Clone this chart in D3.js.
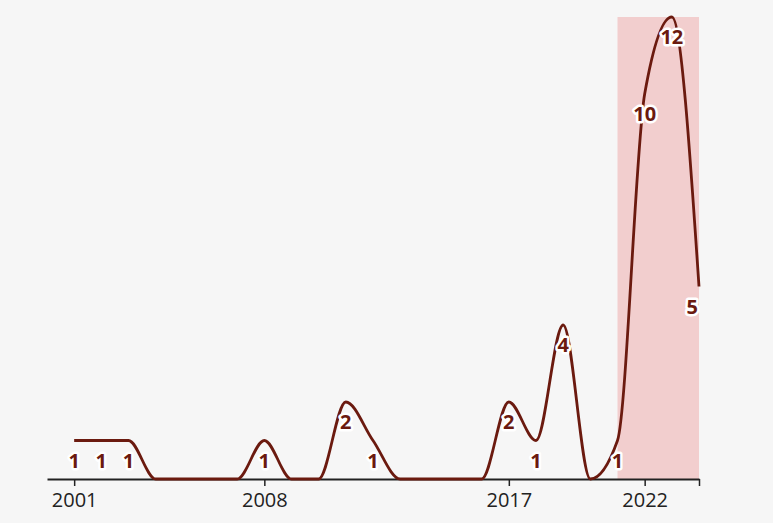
<!DOCTYPE html>
<html>
<head>
<meta charset="utf-8">
<script src="https://cdn.jsdelivr.net/npm/d3@7"></script>
<style>
  html, body { margin: 0; padding: 0; background: #f5f5f5; }
  svg { display: block; }
</style>
</head>
<body>
<svg id="chart" width="773" height="523"></svg>
<script>
const years  = [2001,2002,2003,2004,2005,2006,2007,2008,2009,2010,2011,2012,2013,2014,2015,2016,2017,2018,2019,2020,2021,2022,2023,2024];
const counts = [1,1,1,0,0,0,0,1,0,0,2,1,0,0,0,0,2,1,4,0,1,10,12,5];
const tickYears = [2001, 2008, 2017, 2022, 2024];
const tickLabels = ["2001", "2008", "2017", "2022", ""];
const highlightRange = [2021, 2024];

const svg = d3.select("#chart");
const W = 773, H = 523;
svg.append("rect").attr("width", W).attr("height", H).attr("fill", "#f6f6f6");

const x = d3.scaleLinear().domain([2000, 2024]).range([47, 699]);
const y = d3.scaleLinear().domain([0, 12]).range([479, 17]);

const data = years.map((yr, i) => ({year: yr, value: counts[i]}));

// highlight band
svg.append("rect")
  .attr("x", x(highlightRange[0]))
  .attr("y", y(12))
  .attr("width", x(highlightRange[1]) - x(highlightRange[0]))
  .attr("height", y(0) - y(12))
  .attr("fill", "#f2cece");

// axis
const axis = d3.axisBottom(x)
  .tickValues(tickYears)
  .tickFormat((d, i) => tickLabels[i])
  .tickSize(7)
  .tickSizeOuter(0);
const gx = svg.append("g").attr("transform", `translate(0,${y(0)})`).call(axis);
gx.select(".domain").attr("stroke", "#222").attr("stroke-width", 2);
gx.selectAll(".tick line").attr("stroke", "#222").attr("stroke-width", 1.5);
gx.selectAll(".tick text")
  .attr("fill", "#222")
  .attr("font-family", "'Open Sans', 'Noto Sans', sans-serif")
  .attr("font-size", 20)
  .attr("dy", "0.95em")
  .attr("y", 9);

// line
const line = d3.line()
  .x(d => x(d.year))
  .y(d => y(d.value))
  .curve(d3.curveMonotoneX);
svg.append("path")
  .datum(data)
  .attr("d", line)
  .attr("fill", "none")
  .attr("stroke", "#6b1a0f")
  .attr("stroke-width", 2.8);

// labels
const lastYear = years[years.length - 1];
svg.append("g").selectAll("text")
  .data(data.filter(d => d.value > 0))
  .join("text")
  .attr("x", d => d.year === lastYear ? x(d.year) - 1 : x(d.year))
  .attr("y", d => y(d.value) + 27)
  .attr("text-anchor", d => d.year === lastYear ? "end" : "middle")
  .attr("font-family", "'Open Sans', 'Noto Sans', sans-serif")
  .attr("font-weight", "bold")
  .attr("font-size", 20)
  .attr("fill", "#6b1a0f")
  .attr("stroke", "#fff")
  .attr("stroke-width", 5)
  .attr("stroke-linejoin", "round")
  .attr("paint-order", "stroke")
  .text(d => d.value);
</script>
</body>
</html>
